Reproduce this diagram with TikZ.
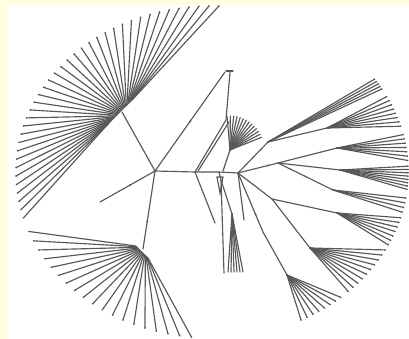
\documentclass[tikz,border=0pt]{standalone}
\usetikzlibrary{calc}
\definecolor{bgy}{RGB}{255,255,224}
\definecolor{ln}{RGB}{88,88,88}
\newcommand\drawfan[4]{%
  \foreach \k in {0,...,#4}{%
    \pgfmathsetmacro\fanT{#2+(#3-#2)*\k/#4}%
    \draw[br] (#1) -- ({212+196*cos(\fanT)},{172-166*sin(\fanT)}) coordinate (tip);
    \fill[ln] (tip) circle (0.9);
  }}
\begin{document}
\begin{tikzpicture}[x=1pt,y=-1pt,
  br/.style={draw=ln,line width=1.15pt,line cap=round}]
\useasboundingbox (0,0) rectangle (409,339);
\fill[bgy] (0,0) rectangle (409,339);
\fill[white] (7,5) rectangle (409,339);

% main skeleton
\coordinate (A) at (155,171);
\coordinate (ULh) at (122,112);
\coordinate (LLh) at (143,249);
\coordinate (Lf) at (100,202);
\coordinate (T1) at (225,72);
\coordinate (C) at (195,172);
\coordinate (D) at (226,120);
\coordinate (T2) at (230,72);
\coordinate (Cl) at (215,223);
\coordinate (P) at (219,172);
\coordinate (M1) at (221,180);
\coordinate (S) at (232,214);
\coordinate (F) at (230,150);
\coordinate (E) at (238,173);
\coordinate (El) at (244,220);
\coordinate (R1) at (268,142);
\coordinate (R2) at (327,128);
\coordinate (G) at (278,163);
\coordinate (R3) at (337,148);
\coordinate (R4) at (340,170);
\coordinate (R5) at (333,190);
\coordinate (K) at (272,199);
\coordinate (R6) at (337,213);
\coordinate (R7) at (310,248);
\coordinate (L) at (263,232);
\coordinate (R8) at (287,275);

\draw[br] (A) -- (ULh);
\draw[br] (A) -- coordinate[pos=0.45] (d1) (Lf);
\draw[br] (A) -- coordinate[pos=0.65] (d2) (LLh);
\draw[br] (A) -- coordinate[pos=0.5] (d3) (T1);
\draw[br] (A) -- (C) -- (P) -- (E);
\draw[br] (C) -- (D) -- (T2);
\draw[br] ($(C)+(3,-1)$) -- ($(D)+(3,2)$);
\draw[br] (226,71) -- (233,71);
\draw[br] (C) -- (Cl);
\draw[br] (P) -- (M1) -- (224,273);
\draw[br] (217,177) -- (223,177) -- (220,193) -- cycle;
\draw[br] (M1) -- (S);
\foreach \x in {228,231,234,237,240,243}{\draw[br] (S) -- (\x,272);}
\draw[br] (P) ++(4,-1) -- (F);
\draw[br] (E) -- (El);
\draw[br] (E) -- (R1) -- (R2);
\draw[br] (E) -- coordinate[pos=0.75] (d4) (G);
\draw[br] (G) -- (R3);
\draw[br] (G) -- (R4);
\draw[br] (G) -- (R5);
\draw[br] (E) -- (K) -- (R6);
\draw[br] (K) -- (R7);
\draw[br] (E) -- coordinate[pos=0.7] (d5) (L) -- (R8);
\foreach \d in {d1,d2,d3,d4,d5}{\fill[ln] (\d) circle (1.1);}

% upper-left fan (hub slides along the diagonal)
\foreach \k in {0,...,37}{%
  \pgfmathsetmacro\fanT{196-108*\k/37}%
  \pgfmathsetmacro\hx{108+25*\k/37}%
  \pgfmathsetmacro\hy{124-25*\k/37}%
  \draw[br] (\hx,\hy) -- ({212+196*cos(\fanT)},{172-166*sin(\fanT)}) coordinate (tip);
  \fill[ln] (tip) circle (0.9);
}

% lower-left fan
\foreach \k in {0,...,18}{%
  \pgfmathsetmacro\fanT{201+63*\k/18}%
  \pgfmathsetmacro\hx{136+12*\k/18}%
  \pgfmathsetmacro\hy{246+12*\k/18}%
  \draw[br] (\hx,\hy) -- ({212+196*cos(\fanT)},{172-166*sin(\fanT)}) coordinate (tip);
  \fill[ln] (tip) circle (0.9);
}

% central small fan
\foreach \k in {0,...,13}{%
  \pgfmathsetmacro\fanT{95-73*\k/13}%
  \draw[br] (F) -- ++({34*cos(\fanT)},{-34*sin(\fanT)});
}

% right fans
\drawfan{R1}{34}{30}{4}
\drawfan{R2}{27}{16}{7}
\drawfan{R3}{13}{4}{6}
\drawfan{R4}{2}{-6}{7}
\drawfan{R5}{-9}{-14}{3}
\drawfan{R6}{-16}{-26}{6}
\drawfan{R7}{-28}{-46}{9}
\drawfan{R8}{-49}{-63}{7}
\end{tikzpicture}
\end{document}
